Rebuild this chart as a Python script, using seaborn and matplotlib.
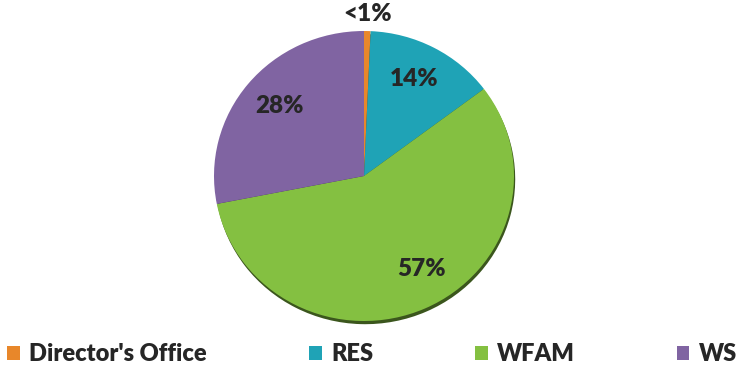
import matplotlib
matplotlib.use("Agg")
import matplotlib.pyplot as plt
import matplotlib.colors as mcolors
import seaborn as sns

# Budget share by unit (percent)
units = ["Director's Office", "RES", "WFAM", "WS"]
shares = [0.7, 14, 57, 28]
share_labels = ["<1%", "14%", "57%", "28%"]

sns.set_theme(style="white")
plt.rcParams["font.family"] = ["Lato", "DejaVu Sans"]

palette = sns.color_palette(["#E8872A", "#1FA3B6", "#84C041", "#8064A2"])
shadow_palette = [tuple(c * 0.45 for c in mcolors.to_rgb(col)) for col in palette]

fig = plt.figure(figsize=(7.40, 3.67), dpi=100)
# Pie box in figure fractions (slightly flattened ellipse)
ax = fig.add_axes([214 / 740, 46 / 367, 300 / 740, 290 / 367])

# Thin dark rim under the pie for a subtle depth effect
shadow, _ = ax.pie(shares, colors=shadow_palette, startangle=90, counterclock=False,
                   center=(0.008, -0.022), wedgeprops=dict(linewidth=0))
wedges, _ = ax.pie(shares, colors=palette, startangle=90, counterclock=False,
                   wedgeprops=dict(linewidth=0))
for w in list(shadow) + list(wedges):
    w.set_clip_on(False)

ax.set_aspect("auto")
ax.set_xlim(-1, 1)
ax.set_ylim(-1, 1)
ax.axis("off")

label_pos = [(0.023, 1.118), (0.333, 0.672), (0.383, -0.641), (-0.563, 0.483)]
for txt, (x, y) in zip(share_labels, label_pos):
    ax.text(x, y, txt, ha="center", va="center", fontsize=17.5,
            fontweight="heavy", color="#262626", clip_on=False)

leg = fig.legend(wedges, units, loc="center left",
                 bbox_to_anchor=(7 / 740, 1 - 354 / 367), ncol=4,
                 frameon=False, borderpad=0, borderaxespad=0,
                 handlelength=0.55, handleheight=0.55, handletextpad=0.4,
                 columnspacing=4.3, prop=dict(weight="heavy", size=17))
for t in leg.get_texts():
    t.set_color("#262626")

fig.savefig("out.png", dpi=100)
